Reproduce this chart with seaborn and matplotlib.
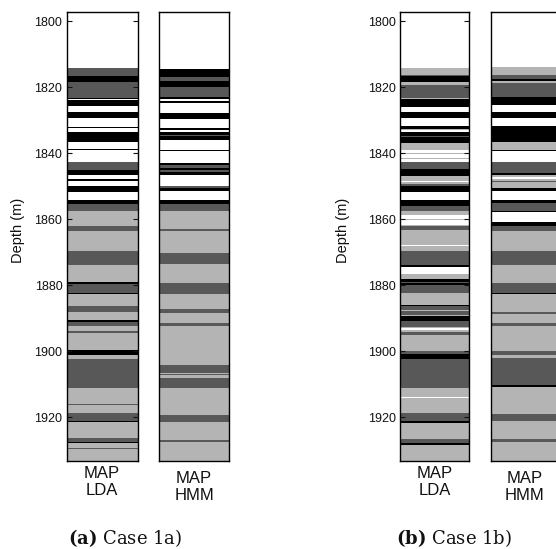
import numpy as np
import matplotlib
matplotlib.use("Agg")
import matplotlib.pyplot as plt
import seaborn as sns

# facies classes: 0 white, 1 light grey, 2 dark grey, 3 black
facies_colors = ['#ffffff', '#b4b4b4', '#585858', '#000000']
depth_top = 1797.2
depth_bottom = 1933.2
depth_ticks = [1800, 1820, 1840, 1860, 1880, 1900, 1920]

# Case 1a, MAP LDA: top depth of each layer and its class
a_lda_top = [1797.2, 1814.2, 1816.6, 1818.5, 1823.3, 1823.6, 1824.0, 1825.7, 1827.5,
             1829.3, 1831.9, 1832.3, 1833.5, 1836.5, 1838.7, 1839.0, 1842.7, 1845.0,
             1846.5, 1847.9, 1848.4, 1849.8, 1851.8, 1854.0, 1855.4, 1857.4, 1862.1,
             1863.4, 1869.5, 1873.9, 1878.9, 1879.7, 1882.3, 1882.6, 1886.2, 1888.0,
             1890.5, 1891.0, 1892.3, 1893.7, 1894.3, 1899.6, 1901.2, 1902.4, 1911.2,
             1915.9, 1916.3, 1918.6, 1921.0, 1921.5, 1926.3, 1927.4, 1927.8, 1929.3,
             1929.6]
a_lda_cls = [0, 2, 3, 2, 3, 0, 3, 0, 3,
             0, 3, 0, 3, 0, 3, 0, 2, 3,
             0, 3, 0, 3, 0, 3, 2, 1, 2,
             1, 2, 1, 3, 2, 3, 1, 2, 1,
             3, 2, 1, 2, 1, 3, 1, 2, 1,
             2, 1, 2, 3, 1, 2, 3, 1, 2,
             1]

# Case 1a, MAP HMM
a_hmm_top = [1797.2, 1814.4, 1816.8, 1818.0, 1819.8, 1823.0, 1823.6, 1824.1, 1824.8,
             1827.9, 1829.5, 1832.3, 1832.9, 1833.4, 1834.4, 1834.8, 1836.0, 1838.9,
             1839.4, 1842.9, 1843.6, 1844.6, 1845.1, 1845.6, 1846.5, 1850.0, 1850.4,
             1851.5, 1854.1, 1855.4, 1857.4, 1862.8, 1863.4, 1870.1, 1873.6, 1879.4,
             1882.6, 1887.2, 1888.3, 1891.5, 1892.3, 1904.1, 1906.4, 1906.9, 1907.3,
             1908.1, 1911.2, 1919.3, 1921.3, 1926.8, 1927.4]
a_hmm_cls = [0, 3, 2, 3, 2, 3, 0, 3, 0,
             3, 0, 3, 0, 3, 2, 3, 0, 3,
             0, 3, 2, 3, 2, 3, 0, 2, 3,
             0, 3, 2, 1, 2, 1, 2, 1, 2,
             1, 2, 1, 2, 1, 2, 1, 2, 1,
             2, 1, 2, 1, 2, 1]

# Case 1b, MAP LDA
b_lda_top = [1797.2, 1814.1, 1815.3, 1815.5, 1816.2, 1816.7, 1818.4, 1819.2, 1823.2,
             1823.7, 1825.9, 1827.5, 1829.3, 1831.8, 1832.5, 1833.0, 1833.5, 1834.8,
             1835.0, 1836.9, 1838.9, 1840.0, 1840.3, 1841.5, 1841.8, 1842.6, 1844.9,
             1846.9, 1848.3, 1848.7, 1849.3, 1850.0, 1851.8, 1854.0, 1856.0, 1857.6,
             1858.6, 1859.8, 1860.2, 1861.6, 1862.1, 1863.1, 1867.7, 1868.1, 1869.7,
             1873.9, 1874.5, 1875.5, 1875.8, 1876.6, 1878.0, 1879.0, 1879.4, 1880.0,
             1882.3, 1885.8, 1886.3, 1887.4, 1887.8, 1888.9, 1889.4, 1890.9, 1892.5,
             1893.0, 1893.5, 1894.0, 1895.0, 1899.8, 1900.7, 1902.3, 1911.1, 1913.7,
             1914.0, 1918.7, 1921.0, 1921.7, 1926.5, 1927.8, 1928.3]
b_lda_cls = [0, 1, 2, 1, 2, 3, 1, 2, 1,
             3, 0, 3, 0, 3, 1, 0, 3, 2,
             3, 1, 0, 1, 0, 1, 0, 2, 3,
             1, 0, 1, 2, 3, 0, 3, 2, 1,
             0, 1, 0, 1, 2, 1, 0, 1, 2,
             3, 0, 1, 0, 1, 3, 2, 3, 2,
             1, 3, 2, 1, 2, 1, 3, 2, 1,
             0, 1, 2, 1, 2, 3, 2, 1, 0,
             1, 2, 3, 1, 2, 3, 1]

# Case 1b, MAP HMM
b_hmm_top = [1797.2, 1813.9, 1816.2, 1817.4, 1818.0, 1818.8, 1823.0, 1825.5, 1827.5,
             1829.3, 1831.8, 1836.6, 1838.9, 1839.4, 1842.6, 1845.9, 1846.7, 1847.1,
             1847.7, 1848.3, 1848.7, 1850.4, 1851.5, 1854.0, 1855.0, 1857.4, 1857.8,
             1860.8, 1862.1, 1863.6, 1869.7, 1873.9, 1879.3, 1882.3, 1882.6, 1888.1,
             1888.7, 1891.4, 1892.2, 1899.8, 1901.0, 1902.0, 1910.1, 1910.9, 1919.0,
             1921.0, 1926.5, 1927.3]
b_hmm_cls = [0, 1, 2, 3, 1, 2, 3, 0, 3,
             0, 3, 1, 3, 0, 2, 3, 1, 0,
             1, 2, 1, 3, 0, 3, 2, 3, 0,
             3, 2, 1, 2, 1, 2, 3, 1, 2,
             1, 2, 1, 2, 1, 2, 3, 1, 2,
             1, 2, 1]

sns.set_theme(style="white")
plt.rcParams['font.family'] = ['Liberation Sans', 'DejaVu Sans']
plt.rcParams['text.color'] = '#111111'
plt.rcParams['mathtext.fontset'] = 'dejavuserif'

W, H = 556, 549
fig = plt.figure(figsize=(W / 100, H / 100), dpi=100)


def draw_log(x0, x1, tops, cls, ticks=False):
    ax = fig.add_axes([x0 / W, 1 - 461 / H, (x1 - x0) / W, (461 - 12) / H])
    tops = np.asarray(tops)
    heights = np.diff(np.append(tops, depth_bottom))
    ax.bar(np.zeros(len(tops)), heights, bottom=tops, width=1.0,
           color=[facies_colors[c] for c in cls], linewidth=0)
    ax.set_xlim(-0.5, 0.5)
    ax.set_ylim(depth_bottom, depth_top)
    ax.set_axisbelow(False)
    ax.set_xticks([])
    for s in ax.spines.values():
        s.set_color('black')
        s.set_linewidth(1.0)
    if ticks:
        ax.set_yticks(depth_ticks)
        ax.tick_params(axis='y', direction='in', length=3.5, width=0.8,
                       left=True, right=True, labelsize=9, colors='#111111', pad=3)
    else:
        ax.set_yticks([])
    return ax


ax1 = draw_log(66.5, 137.7, a_lda_top, a_lda_cls, ticks=True)
ax2 = draw_log(159.0, 228.7, a_hmm_top, a_hmm_cls)
ax3 = draw_log(400.0, 469.3, b_lda_top, b_lda_cls, ticks=True)
ax4 = draw_log(490.7, 560.0, b_hmm_top, b_hmm_cls)

fig.text(18 / W, 1 - 230 / H, 'Depth (m)', rotation=90, ha='center', va='center', fontsize=10.5)
fig.text(343 / W, 1 - 230 / H, 'Depth (m)', rotation=90, ha='center', va='center', fontsize=10.5)

for xc, yc, lab in [(102, 482, 'MAP\nLDA'), (194, 487, 'MAP\nHMM'),
                    (434.5, 482, 'MAP\nLDA'), (525, 487, 'MAP\nHMM')]:
    fig.text(xc / W, 1 - yc / H, lab, ha='center', va='center', fontsize=12,
             linespacing=1.15)

for xc, letter, case in [(125, '(a)', 'Case 1a)'), (454, '(b)', 'Case 1b)')]:
    fig.text(xc / W, 1 - 538 / H, r'$\mathbf{' + letter + r'}$ ' + case, ha='center', va='center',
             fontsize=13, family=['DejaVu Serif'])

fig.savefig('out.png', dpi=100)
